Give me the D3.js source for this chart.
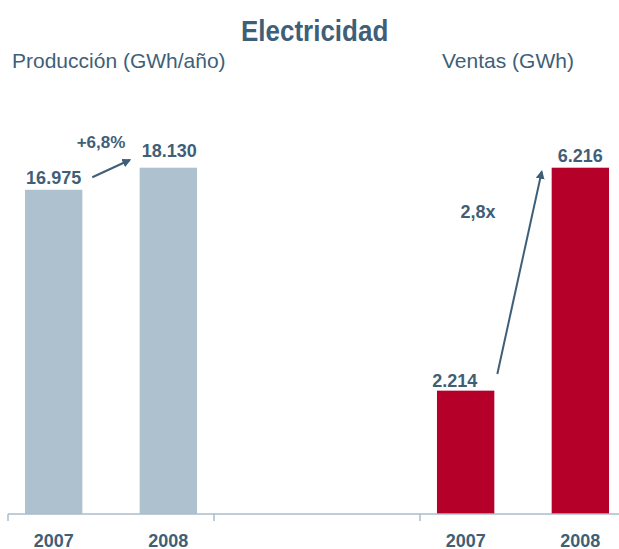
<!DOCTYPE html>
<html>
<head>
<meta charset="utf-8">
<script src="https://cdn.jsdelivr.net/npm/d3@7"></script>
<style>
  body { margin: 0; background: #fff; }
  svg text { font-family: "Liberation Sans", Arial, sans-serif; fill: #3f5f78; }
</style>
</head>
<body>
<div id="chart"></div>
<script>
var years = ["2007", "2008"];
var produccion = [16975, 18130];
var ventas = [2214, 6216];
var produccionLabels = ["16.975", "18.130"];
var ventasLabels = ["2.214", "6.216"];
var groups = ["Producción (GWh/año)", "", "Ventas (GWh)"];
var growthLabels = ["+6,8%", "2,8x"];

function init(){
    var w = 619;
    var h = 549;
    var base = 514;
    var top = 167.7;

    var svg = d3.select("#chart")
      .append("svg")
      .attr("width", w)
      .attr("height", h);

    // three groups, the middle one empty
    var groupScale = d3.scaleBand()
      .domain(d3.range(groups.length))
      .range([8, 626]);

    var xScale = d3.scaleBand()
      .domain(years)
      .range([0, groupScale.bandwidth()])
      .paddingInner(0.5)
      .paddingOuter(0.148);

    // each group has its own scale, the biggest bar reaches the same height
    var yProd = d3.scaleLinear().domain([0, d3.max(produccion)]).range([base, top]);
    var yVent = d3.scaleLinear().domain([0, d3.max(ventas)]).range([base, top]);

    var series = [
      {g: 0, values: produccion, labels: produccionLabels, y: yProd, color: "#adc1cf"},
      {g: 2, values: ventas, labels: ventasLabels, y: yVent, color: "#b5002a"}
    ];

    // value label nudges (dx, dy)
    var nudge = {"16.975": [0, 0], "18.130": [1, -5], "2.214": [-11, 2], "6.216": [0, 0]};

    series.forEach(function(s){
      var gx = groupScale(s.g);
      var g = svg.append("g");

      g.selectAll("rect")
        .data(s.values)
        .enter()
        .append("rect")
        .attr("x", function(d, i){ return gx + xScale(years[i]); })
        .attr("y", function(d){ return s.y(d); })
        .attr("width", xScale.bandwidth())
        .attr("height", function(d){ return base - s.y(d); })
        .attr("fill", s.color);

      g.selectAll("text.value")
        .data(s.values)
        .enter()
        .append("text")
        .attr("class", "value")
        .attr("x", function(d, i){ return gx + xScale(years[i]) + xScale.bandwidth()/2 + nudge[s.labels[i]][0]; })
        .attr("y", function(d, i){ return s.y(d) - 6 + nudge[s.labels[i]][1]; })
        .attr("text-anchor", "middle")
        .style("font-size", "18px")
        .style("font-weight", "bold")
        .text(function(d, i){ return s.labels[i]; });

      g.selectAll("text.year")
        .data(years)
        .enter()
        .append("text")
        .attr("class", "year")
        .attr("x", function(d){ return gx + xScale(d) + xScale.bandwidth()/2; })
        .attr("y", 546.5)
        .attr("text-anchor", "middle")
        .style("font-size", "18px")
        .style("font-weight", "bold")
        .text(function(d){ return d; });
    });

    // axis
    var axis = d3.axisBottom(groupScale)
      .tickValues([])
      .tickSizeOuter(0);
    var axisG = svg.append("g").attr("transform", "translate(0," + base + ")").call(axis);
    axisG.select(".domain").remove();
    axisG.append("line")
      .attr("x1", 8).attr("x2", w)
      .attr("stroke", "#a9bdcc").attr("stroke-width", 1.5);
    axisG.selectAll("line.tk")
      .data(d3.range(groups.length))
      .enter()
      .append("line")
      .attr("class", "tk")
      .attr("x1", function(d){ return groupScale(d); })
      .attr("x2", function(d){ return groupScale(d); })
      .attr("y1", 0).attr("y2", 7)
      .attr("stroke", "#a9bdcc").attr("stroke-width", 1.5);

    // arrows
    svg.append("defs").append("marker")
      .attr("id", "head")
      .attr("viewBox", "0 0 10 10")
      .attr("refX", 8).attr("refY", 5)
      .attr("markerWidth", 4.5).attr("markerHeight", 4.5)
      .attr("orient", "auto")
      .append("path")
      .attr("d", "M0,0 L10,5 L0,10 Z")
      .attr("fill", "#3f5f78");

    var g0 = groupScale(0), g2 = groupScale(2), bw = xScale.bandwidth();
    var arrows = [
      [g0 + xScale("2007") + bw + 10, yProd(produccion[0]) - 12.5, g0 + xScale("2008") - 10, yProd(produccion[1]) - 7.7],
      [g2 + xScale("2007") + bw + 3, yVent(ventas[0]) - 16.7, g2 + xScale("2008") - 10, yVent(ventas[1]) + 4]
    ];
    svg.selectAll("line.arrow")
      .data(arrows)
      .enter()
      .append("line")
      .attr("class", "arrow")
      .attr("x1", function(d){ return d[0]; })
      .attr("y1", function(d){ return d[1]; })
      .attr("x2", function(d){ return d[2]; })
      .attr("y2", function(d){ return d[3]; })
      .attr("stroke", "#3f5f78")
      .attr("stroke-width", 2)
      .attr("marker-end", "url(#head)");

    svg.append("text")
      .attr("x", 101).attr("y", 148.3)
      .attr("text-anchor", "middle")
      .style("font-size", "17px").style("font-weight", "bold")
      .text(growthLabels[0]);
    svg.append("text")
      .attr("x", 478).attr("y", 218)
      .attr("text-anchor", "middle")
      .style("font-size", "18px").style("font-weight", "bold")
      .text(growthLabels[1]);

    // titles
    svg.append("text")
      .attr("transform", "translate(314.6,41.4) scale(1,1.12)")
      .attr("text-anchor", "middle")
      .style("font-size", "26px").style("font-weight", "bold")
      .text("Electricidad");
    svg.append("text")
      .attr("x", 12).attr("y", 68)
      .style("font-size", "21px")
      .text(groups[0]);
    svg.append("text")
      .attr("x", 442).attr("y", 68)
      .style("font-size", "21px")
      .text(groups[2]);
}

window.onload = init;
</script>
</body>
</html>
